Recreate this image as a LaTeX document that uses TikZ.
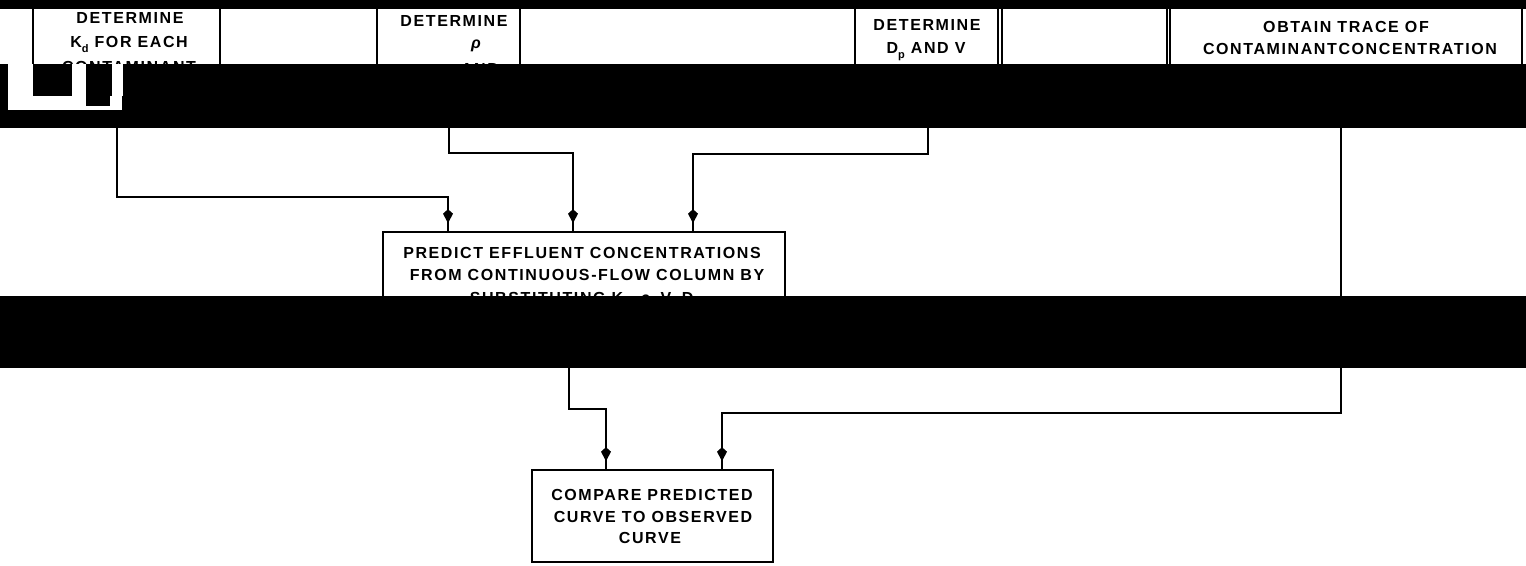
\documentclass[tikz,border=0pt]{standalone}
\usepackage{fontspec}
\setmainfont{Liberation Sans}[LetterSpace=10]
\usetikzlibrary{arrows.meta,decorations.markings,calc}
\newcommand\lowsub[1]{\raisebox{-0.35em}{\fontsize{11}{11}\selectfont #1}}
\begin{document}
\begin{tikzpicture}[x=1pt,y=-1pt,
  box/.style={draw=black, line width=1.6pt, rectangle, inner sep=0pt, fill=white},
  lbl/.style={anchor=base, inner sep=0pt, font=\fontsize{16}{18}\selectfont\bfseries},
  flow/.style={line width=1.6pt, postaction={decorate},
    decoration={markings, mark=at position -8pt with {\arrow{Kite[length=14pt,width=10pt,inset=4.5pt]}}}},
  band/.style={fill=black, draw=none}]
\useasboundingbox (0,0) rectangle (1526,565);
\fill[white] (0,0) rectangle (1526,565);

% boxes
\node[box, minimum width=187pt, minimum height=110pt] (kd)  at (126.5,60) {};
\node[box, minimum width=143pt, minimum height=110pt] (rho) at (448.5,60) {};
\node[box, minimum width=143pt, minimum height=110pt] (dp)  at (926.5,60) {};
\node[box, minimum width=352pt, minimum height=110pt] (obt) at (1346,60) {};
\node[box, minimum width=402pt, minimum height=108pt] (pred) at (584,286) {};
\node[box, minimum width=241pt, minimum height=92pt]  (cmp) at (652.5,516) {};
\draw[line width=1.5pt] (1002,5) -- (1002,66);
\draw[line width=1.5pt] (1167,5) -- (1167,66);

% texts
\node[lbl] (kd1) at (130,23) {DETERMINE};
\node[lbl] (kd2) at (129,47) {K\lowsub{d} FOR EACH};
\node[lbl] (kd3) at (129,72) {CONTAMINANT};
\node[lbl] (rho1) at (454,26) {DETERMINE};
\node[lbl] (rho2) at (476,48) {\itshape ρ};
\node[lbl] (rho3) at (480,74) {AND};
\node[lbl] (dp1) at (927,30) {DETERMINE};
\node[lbl] (dp2) at (926,53) {D\lowsub{p} AND V};
\node[lbl] (obt1) at (1346,32) {OBTAIN TRACE OF};
\node[lbl] (obt2) at (1350,54) {CONTAMINANTCONCENTRATION};
\node[lbl] (pred1) at (582,258) {PREDICT EFFLUENT CONCENTRATIONS};
\node[lbl] (pred2) at (587,280) {FROM CONTINUOUS-FLOW COLUMN BY};
\node[lbl] (pred3) at (585,303) {SUBSTITUTING K\lowsub{d}, {\itshape ρ}, V, D\lowsub{p}};
\node[lbl] (cmp1) at (652,500) {COMPARE PREDICTED};
\node[lbl] (cmp2) at (653,522) {CURVE TO OBSERVED};
\node[lbl] (cmp3) at (650,543) {CURVE};

% connectors
\draw[flow] ([xshift=-9.5pt]kd.south) |- (448,197) -- (448,0 |- pred.north);
\draw[flow] ([xshift=0.5pt]rho.south) |- (573,153) -- (573,0 |- pred.north);
\draw[flow] ([xshift=1.5pt]dp.south) |- (693,154) -- (693,0 |- pred.north);
\draw[flow] ([xshift=-15pt]pred.south) |- (606,409) -- (606,0 |- cmp.north);
\draw[flow] ([xshift=-5pt]obt.south) |- (722,413) -- (722,0 |- cmp.north);

% black bands of the scan
\fill[band] (0,0) rectangle (1526,9);
\fill[band] (0,64) rectangle (1526,128);
\fill[band] (0,296) rectangle (1526,368);
% white scan remnants in the upper band
\fill[white] (8,64) rectangle (33,110);
\fill[white] (30,96) rectangle (122,110);
\fill[white] (72,64) rectangle (86,96);
\fill[white] (112,64) rectangle (123,96);
\fill[black] (86,90) rectangle (110,106);
\end{tikzpicture}
\end{document}
